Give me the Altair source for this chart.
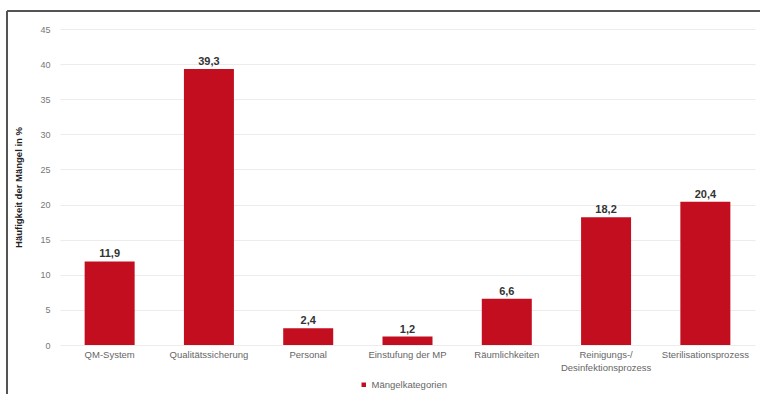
import altair as alt
import pandas as pd

# Defect categories and their share of all findings (%)
categories = [
    "QM-System",
    "Qualitätssicherung",
    "Personal",
    "Einstufung der MP",
    "Räumlichkeiten",
    "Reinigungs-/|Desinfektionsprozess",
    "Sterilisationsprozess",
]
values = [11.9, 39.3, 2.4, 1.2, 6.6, 18.2, 20.4]
value_labels = ["11,9", "39,3", "2,4", "1,2", "6,6", "18,2", "20,4"]
series_name = "Mängelkategorien"
y_ticks = [0, 5, 10, 15, 20, 25, 30, 35, 40, 45]

df = pd.DataFrame({
    "Kategorie": categories,
    "Wert": values,
    "Label": value_labels,
    "Serie": [series_name] * len(categories),
})

FONT = "Liberation Sans"
RED = "#C20E1F"

x_enc = alt.X(
    "Kategorie:N",
    sort=categories,
    title=None,
    scale=alt.Scale(paddingInner=0.5, paddingOuter=0.25),
    axis=alt.Axis(
        labelAngle=0,
        labelExpr="split(datum.label, '|')",
        labelFontSize=9.5,
        labelColor="#666666",
        labelPadding=4,
        labelLineHeight=13,
        labelOverlap=False,
        domain=False,
        ticks=False,
        grid=False,
    ),
)

y_enc = alt.Y(
    "Wert:Q",
    title="Häufigkeit der Mängel in %",
    scale=alt.Scale(domain=[0, 45], nice=False),
    axis=alt.Axis(
        values=y_ticks,
        labelFontSize=9,
        labelColor="#777777",
        labelPadding=10,
        labelOverlap=False,
        titleFontSize=9.5,
        titleFontWeight="bold",
        titleColor="#222222",
        titlePadding=16,
        domain=False,
        ticks=False,
        gridColor="#ececec",
        gridWidth=1,
    ),
)

bars = alt.Chart(df).mark_bar(size=50).encode(
    x=x_enc,
    y=y_enc,
    color=alt.Color(
        "Serie:N",
        scale=alt.Scale(range=[RED]),
        legend=alt.Legend(
            title=None,
            orient="none",
            legendX=299,
            legendY=351,
            symbolType="square",
            symbolSize=20,
            labelFontSize=9.5,
            labelColor="#666666",
            labelFont=FONT,
            labelOffset=3,
        ),
    ),
)

text = alt.Chart(df).mark_text(
    dy=-7, fontSize=11, fontWeight="bold", color="#333333", font=FONT
).encode(
    x=x_enc,
    y=y_enc,
    text="Label:N",
)

# Outer frame (left and top edges)
frame_left = alt.Chart(df).mark_rule(color="#555555", strokeWidth=1.5).encode(
    x=alt.value(-53), y=alt.value(-18), y2=alt.value(380)
)
frame_top = alt.Chart(df).mark_rule(color="#555555", strokeWidth=1.5).encode(
    x=alt.value(-53), x2=alt.value(720), y=alt.value(-18)
)

chart = (
    alt.layer(bars, text, frame_left, frame_top)
    .properties(
        width=695,
        height=316,
        autosize=alt.AutoSizeParams(type="none"),
        padding={"left": 60, "top": 29, "right": 5, "bottom": 49},
        background="white",
    )
    .configure(font=FONT)
    .configure_view(stroke=None)
)

chart.save("out.html", embed_options={"renderer": "svg", "actions": False})
